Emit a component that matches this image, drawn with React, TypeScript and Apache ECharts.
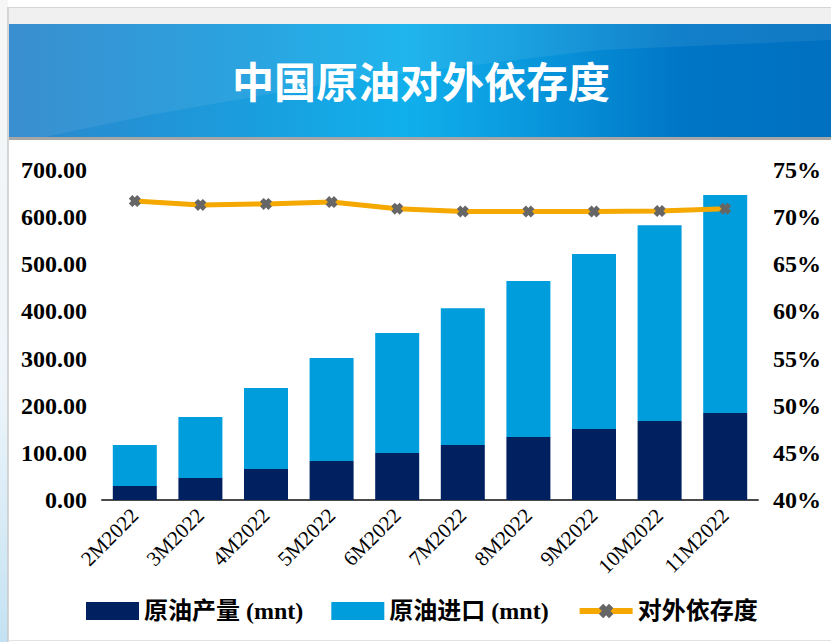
import React, { useEffect, useRef } from "react";
import * as echarts from "echarts";

const categories = ["2M2022", "3M2022", "4M2022", "5M2022", "6M2022", "7M2022", "8M2022", "9M2022", "10M2022", "11M2022"];
const production = [29.7, 46.7, 65.8, 82.7, 99.7, 116.7, 133.6, 150.6, 167.6, 184.6];
const imports = [87.0, 129.3, 171.8, 218.3, 254.3, 290.3, 331.0, 371.4, 415.4, 462.4];
const dependence = [71.7, 71.3, 71.4, 71.6, 70.9, 70.6, 70.6, 70.6, 70.65, 70.9];
const seriesNames = ["原油产量 (mnt)", "原油进口 (mnt)", "对外依存度"];
const title = "中国原油对外依存度";

const serif = "'Liberation Serif', 'Noto Sans CJK SC', serif";
const xMarker = "path://M3,0 L5,2 L7,0 L10,3 L8,5 L10,7 L7,10 L5,8 L3,10 L0,7 L2,5 L0,3 Z";

export default function App() {
  const ref = useRef<HTMLDivElement>(null);
  useEffect(() => {
    if (!ref.current) return;
    const chart = echarts.init(ref.current, null, { renderer: "svg" });
    chart.setOption({
      animation: false,
      backgroundColor: "#ffffff",
      graphic: [
        { type: "rect", z: 0, shape: { x: 0, y: 0, width: 8, height: 642 },
          style: { fill: new echarts.graphic.LinearGradient(0, 0, 0, 1, [
            { offset: 0, color: "#f6f6f6" }, { offset: 0.6, color: "#eef5fa" }, { offset: 1, color: "#c4e2f3" }]) } },
        { type: "line", z: 1, shape: { x1: 8, y1: 7, x2: 8, y2: 642 }, style: { stroke: "#c8c8c8", lineWidth: 1.5 } },
        { type: "line", z: 1, shape: { x1: 8, y1: 7.5, x2: 831, y2: 7.5 }, style: { stroke: "#d4d4d4", lineWidth: 1 } },
        { type: "rect", z: 0, shape: { x: 9, y: 8, width: 822, height: 16 }, style: { fill: "#f0f0f0" } },
        { type: "rect", z: 0, shape: { x: 9, y: 24, width: 822, height: 114 },
          style: { fill: new echarts.graphic.LinearGradient(0, 0, 1, 0, [
            { offset: 0, color: "#2c86cc" }, { offset: 0.3, color: "#1a9ede" }, { offset: 0.48, color: "#10b0ec" },
            { offset: 0.62, color: "#0a9ade" }, { offset: 0.82, color: "#0076c6" }, { offset: 1, color: "#0070c0" }]) } },
        { type: "polygon", z: 1, shape: { points: [[9, 24], [831, 24], [831, 40], [600, 50], [350, 80], [150, 115], [40, 138], [9, 138]] },
          style: { fill: "rgba(255,255,255,0.07)" } },
        { type: "rect", z: 1, shape: { x: 9, y: 137, width: 822, height: 3 }, style: { fill: "#a6a6a6" } },
        { type: "line", z: 1, shape: { x1: 8, y1: 640.5, x2: 831, y2: 640.5 }, style: { stroke: "#e2e2e2", lineWidth: 1 } },
        { type: "text", z: 5, x: 421, y: 79,
          style: { text: title, fill: "#ffffff", font: "bold 42px 'Noto Sans CJK SC', sans-serif", textAlign: "center", textVerticalAlign: "middle" } },
      ],
      legend: {
        left: 81, top: 594, itemWidth: 53, itemHeight: 18, itemGap: 28,
        textStyle: { fontFamily: serif, fontSize: 24, fontWeight: "bold", color: "#000" },
        data: [
          { name: seriesNames[0], icon: "rect" },
          { name: seriesNames[1], icon: "rect" },
          { name: seriesNames[2], lineStyle: { width: 6, color: "#f5a800" } },
        ],
      },
      grid: { left: 102, right: 73, top: 170, bottom: 142, containLabel: false },
      xAxis: {
        type: "category", data: categories,
        axisLine: { show: true, lineStyle: { color: "#4a4a4a", width: 2 } },
        axisTick: { show: false },
        axisLabel: { rotate: 45, margin: 12, interval: 0, fontFamily: serif, fontSize: 21, color: "#000" },
      },
      yAxis: [
        {
          type: "value", min: 0, max: 700, interval: 100,
          axisLine: { show: false }, axisTick: { show: false }, splitLine: { show: false },
          axisLabel: { margin: 15, fontFamily: serif, fontSize: 24, fontWeight: "bold", color: "#000",
            formatter: (v: number) => v.toFixed(2) },
        },
        {
          type: "value", min: 40, max: 75, interval: 5, position: "right",
          axisLine: { show: false }, axisTick: { show: false }, splitLine: { show: false },
          axisLabel: { margin: 15, fontFamily: serif, fontSize: 24, fontWeight: "bold", color: "#000",
            formatter: "{value}%" },
        },
      ],
      series: [
        { name: seriesNames[0], type: "bar", stack: "total", barWidth: 44, data: production,
          itemStyle: { color: "#002060" } },
        { name: seriesNames[1], type: "bar", stack: "total", barWidth: 44, data: imports,
          itemStyle: { color: "#009ddc" } },
        { name: seriesNames[2], type: "line", yAxisIndex: 1, data: dependence, z: 5,
          symbol: xMarker, symbolSize: 12,
          lineStyle: { color: "#f5a800", width: 5 },
          itemStyle: { color: "#666666", borderWidth: 0 } },
      ],
    });
    return () => chart.dispose();
  }, []);
  return <div ref={ref} style={{ position: "fixed", left: 0, top: 0, width: 831, height: 642 }} />;
}
